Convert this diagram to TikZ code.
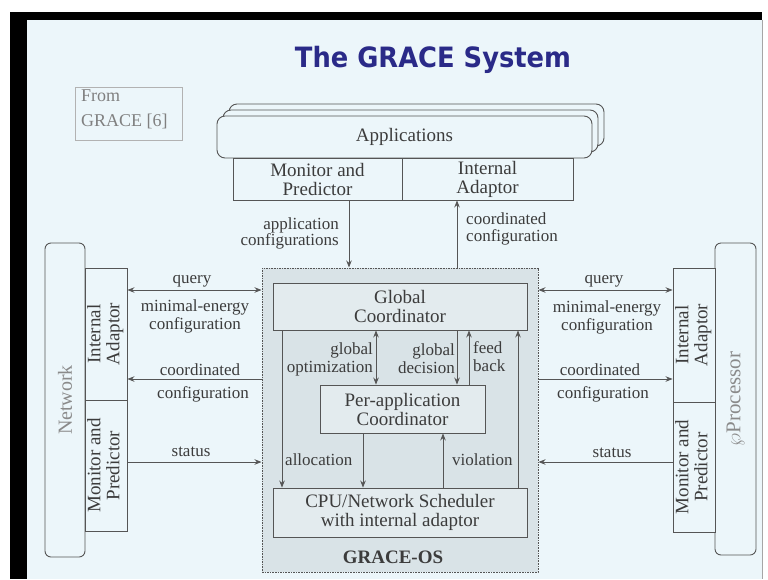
\documentclass[tikz,border=0pt]{standalone}
\usepackage{fontspec}
\setmainfont{Liberation Serif}
\newfontfamily\titlefont[FakeStretch=0.92]{DejaVu Sans}
\usetikzlibrary{arrows.meta}

\definecolor{slidebg}{HTML}{ECF6FA}
\definecolor{osfill}{HTML}{D9E3E7}
\definecolor{innerfill}{HTML}{E3EBEE}
\definecolor{linec}{HTML}{555555}
\definecolor{txt}{HTML}{3C3C3C}
\definecolor{softtxt}{HTML}{8A8A8A}
\definecolor{titleblue}{HTML}{2A2A88}

% two stacked lines of text turned to read upwards
\newcommand{\sidetext}[1]{\rotatebox{90}{\begin{tabular}{@{}c@{}}#1\end{tabular}}}

\tikzset{
  ln/.style={draw=linec, line width=0.9pt},
  box/.style={ln, fill=slidebg, inner sep=0pt, text=txt, align=center,
              font=\fontsize{19}{19}\selectfont},
  osbox/.style={box, fill=innerfill},
  devbox/.style={box, rounded corners=6pt, text=softtxt,
                 font=\fontsize{20}{20}\selectfont},
  lbl/.style={inner sep=0pt, text=txt, font=\fontsize{17}{17}\selectfont},
  arr/.style={ln, -{Stealth[length=7pt,width=5.5pt]}},
  darr/.style={ln, {Stealth[length=7pt,width=5.5pt]}-{Stealth[length=7pt,width=5.5pt]}},
}

\begin{document}
\begin{tikzpicture}[x=1pt,y=-1pt]
\useasboundingbox (0,0) rectangle (768,579);
% slide frame
\fill[white] (0,0) rectangle (768,579);
\fill[black] (10,12) rectangle (762,20);
\fill[black] (10,12) rectangle (27,579);
\fill[slidebg] (27,20) rectangle (762,579);
\draw[gray!70, line width=1pt] (762,20) -- (762,579);

% title
\node[anchor=base, inner sep=0pt, text=titleblue,
      font=\titlefont\bfseries\fontsize{28}{28}\selectfont] (title) at (433,67) {The GRACE System};

% source note
\node[ln, draw=gray!60, line width=0.7pt, minimum width=107pt, minimum height=53pt, inner sep=0pt] (srcbox) at (128.5,113.5) {};
\node[anchor=north west, inner sep=0pt, align=left, text=gray, font=\fontsize{18}{25}\selectfont] (srctext) at (81,90) {From\\GRACE [6]};

% application stack
\node[box, rounded corners=8pt, minimum width=375pt, minimum height=42pt] (app3) at (416.5,125) {};
\node[box, rounded corners=8pt, minimum width=375pt, minimum height=42pt] (app2) at (410.5,131) {};
\node[box, rounded corners=8pt, minimum width=375pt, minimum height=42pt] (app1) at (404.5,137) {Applications};
\node[box, minimum width=169pt, minimum height=42pt] (monapp) at (317.5,179) {Monitor and\\Predictor};
\node[box, minimum width=171pt, minimum height=42pt] (iaapp) at (487.5,179) {Internal\\Adaptor};

% GRACE-OS
\node[ln, fill=osfill, dash pattern=on 1.6pt off 1pt, line width=1pt,
      minimum width=276pt, minimum height=304pt, inner sep=0pt] (os) at (400,420) {};
\node[osbox, minimum width=254pt, minimum height=47pt] (gc) at (400,306.5) {Global\\Coordinator};
\node[osbox, minimum width=165pt, minimum height=48pt] (pac) at (402.5,409) {Per-application\\Coordinator};
\node[osbox, minimum width=254pt, minimum height=49pt] (cpu) at (400,512.5) {CPU/Network Scheduler\\with internal adaptor};
\node[inner sep=0pt, text=txt, font=\fontsize{19}{19}\selectfont\bfseries] (oslabel) at (393,557) {GRACE-OS};

% network side
\node[devbox, minimum width=40pt, minimum height=314pt] (net) at (65,400) {\rotatebox{90}{Network}};
\node[box, minimum width=42pt, minimum height=132pt] (ianet) at (106,334) {\sidetext{Internal\\Adaptor}};
\node[box, minimum width=42pt, minimum height=131pt] (mpnet) at (106,465.5) {\sidetext{Monitor and\\Predictor}};

% processor side
\node[devbox, minimum width=41pt, minimum height=312pt, font=\fontsize{21}{21}\selectfont] (proc) at (735.5,399) {\rotatebox{90}{$\wp$Processor}};
\node[box, minimum width=42pt, minimum height=134pt] (iaproc) at (694,335) {\sidetext{Internal\\Adaptor}};
\node[box, minimum width=42pt, minimum height=130pt] (mpproc) at (694,467) {\sidetext{Monitor and\\Predictor}};

% helper positions for the connectors
\coordinate (xa) at (349,0);
\coordinate (xb) at (457,0);
\coordinate (ya) at (0,290);
\coordinate (yb) at (0,379);
\coordinate (yc) at (0,462);
\coordinate (xi1) at (282,0);
\coordinate (xi2) at (376,0);
\coordinate (xi3) at (457,0);
\coordinate (xi4) at (469,0);
\coordinate (xi5) at (363,0);
\coordinate (xi6) at (443,0);
\coordinate (xi7) at (518,0);

% applications <-> GRACE-OS
\draw[arr] (monapp.south -| xa) -- (os.north -| xa);
\draw[arr] (os.north -| xb) -- (iaapp.south -| xb);
\node[lbl, anchor=east, align=right, font=\fontsize{17}{16}\selectfont] (lappcfg) at (339,233) {application\\configurations};
\node[lbl, anchor=west, align=left, font=\fontsize{17}{17}\selectfont] (lcoord) at (466,229) {coordinated\\configuration};

% network <-> GRACE-OS
\draw[darr] (ianet.east |- ya) -- (os.west |- ya);
\draw[arr] (os.west |- yb) -- (ianet.east |- yb);
\draw[arr] (mpnet.east |- yc) -- (os.west |- yc);
\node[lbl] (lq1) at (192,281) {query};
\node[lbl, align=center, font=\fontsize{17}{18}\selectfont] (lme1) at (195,316) {minimal-energy\\configuration};
\node[lbl] (lc1) at (200,370) {coordinated};
\node[lbl] (lcf1) at (203,394) {configuration};
\node[lbl] (ls1) at (191,452) {status};

% processor <-> GRACE-OS
\draw[darr] (os.east |- ya) -- (iaproc.west |- ya);
\draw[arr] (os.east |- yb) -- (iaproc.west |- yb);
\draw[arr] (mpproc.west |- yc) -- (os.east |- yc);
\node[lbl] (lq2) at (604,281) {query};
\node[lbl, align=center, font=\fontsize{17}{18}\selectfont] (lme2) at (607,317) {minimal-energy\\configuration};
\node[lbl] (lc2) at (600,370) {coordinated};
\node[lbl] (lcf2) at (603,394) {configuration};
\node[lbl] (ls2) at (612,453) {status};

% inside GRACE-OS
\draw[arr] (gc.south -| xi1) -- (cpu.north -| xi1);
\draw[darr] (gc.south -| xi2) -- (pac.north -| xi2);
\draw[arr] (gc.south -| xi3) -- (pac.north -| xi3);
\draw[arr] (pac.north -| xi4) -- (gc.south -| xi4);
\draw[arr] (pac.south -| xi5) -- (cpu.north -| xi5);
\draw[arr] (cpu.north -| xi6) -- (pac.south -| xi6);
\draw[arr] (cpu.north -| xi7) -- (gc.south -| xi7);
\node[lbl, anchor=east, align=right, font=\fontsize{17}{18}\selectfont] (lgo) at (373,359) {global\\optimization};
\node[lbl, anchor=east, align=right, font=\fontsize{17}{18}\selectfont] (lgd) at (455,359) {global\\decision};
\node[lbl, anchor=west, align=left, font=\fontsize{17}{18}\selectfont] (lfb) at (473,357) {feed\\back};
\node[lbl, anchor=west] (lal) at (285,460) {allocation};
\node[lbl, anchor=west] (lvi) at (452,460) {violation};
\end{tikzpicture}
\end{document}
